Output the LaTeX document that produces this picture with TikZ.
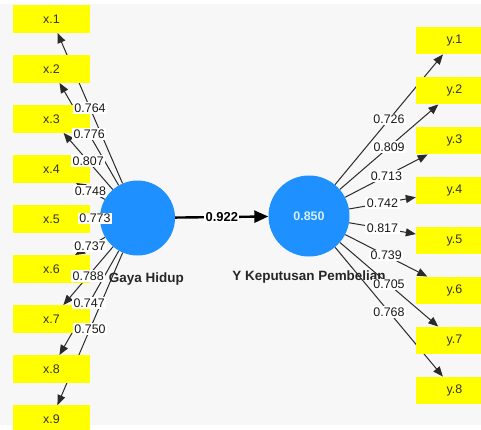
\documentclass[tikz,border=0pt]{standalone}
\usepackage{fontspec}
\setmainfont{Liberation Sans}
\usetikzlibrary{arrows.meta}
\definecolor{bgc}{HTML}{F7F7F7}
\definecolor{lv}{HTML}{1E90FF}
\definecolor{ind}{HTML}{FFFF00}
\definecolor{ln}{HTML}{2A2A2A}
\definecolor{inner}{HTML}{D6F0FF}
\pgfdeclarelayer{bglayer}
\pgfdeclarelayer{lines}
\pgfdeclarelayer{top}
\pgfsetlayers{bglayer,lines,main,top}
\begin{document}
\begin{tikzpicture}[x=1bp,y=-1bp,
  indbox/.style={fill=ind, minimum width=77bp, minimum height=27.5bp, inner sep=0pt,
    font=\fontsize{12.5}{14}\selectfont, text=black!80},
  lvar/.style={circle, fill=lv, inner sep=0pt},
  lvname/.style={font=\bfseries\fontsize{13.5}{15}\selectfont, text=black!85, inner sep=0pt},
  ldg/.style={-{Triangle[length=10bp,width=8bp]}, draw=ln, line width=1bp},
  struc/.style={-{Triangle[length=14bp,width=12bp]}, draw=black, line width=2.4bp},
  wlab/.style={fill=white, inner xsep=1.5bp, inner ysep=1.5bp,
    font=\fontsize{12.5}{14}\selectfont, text=black!90}]
\useasboundingbox (0,0) rectangle (481,429);
\begin{pgfonlayer}{bglayer}
\fill[white] (0,0) rectangle (481,429);
\fill[bgc] (0,4) rectangle (481,425);
\end{pgfonlayer}
\clip (0,0) rectangle (481,429);
% indicators
\foreach \i in {1,...,9}
  \node[indbox] (x\i) at (51.5,{19+50*(\i-1)}) {x.\i};
\foreach \i in {1,...,8}
  \node[indbox] (y\i) at (454.5,{40.5+50*(\i-1)}) {y.\i};
% latent variables
\node[lvar, minimum size=75bp] (X) at (137.5,218) {};
\node[lvar, minimum size=81bp, text=inner, font=\bfseries\fontsize{12.5}{14}\selectfont] (Y) at (309,216) {0.850};
\node[lvname] (Xn) at (140,279) {X Gaya Hidup};
\node[lvname] (Yn) at (309,277) {Y Keputusan Pembelian};
% connectors
\begin{pgfonlayer}{lines}
\foreach \i in {1,...,9} \draw[ldg] (X) -- (x\i);
\foreach \i in {1,...,8} \draw[ldg] (Y) -- (y\i);
\draw[struc] (X) -- (Y);
\end{pgfonlayer}
% labels
\begin{pgfonlayer}{top}
\foreach \i/\v in {1/0.764,2/0.776,3/0.807,4/0.748,5/0.773,6/0.737,7/0.788,8/0.747,9/0.750}
  \path (X) -- (x\i) node[midway, wlab] {\v};
\foreach \i/\v in {1/0.726,2/0.809,3/0.713,4/0.742,5/0.817,6/0.739,7/0.705,8/0.768}
  \path (Y) -- (y\i) node[midway, wlab] {\v};
\path (X) -- (Y) node[midway, wlab, font=\bfseries\fontsize{13}{14}\selectfont, text=black] {0.922};
\end{pgfonlayer}
\end{tikzpicture}
\end{document}
